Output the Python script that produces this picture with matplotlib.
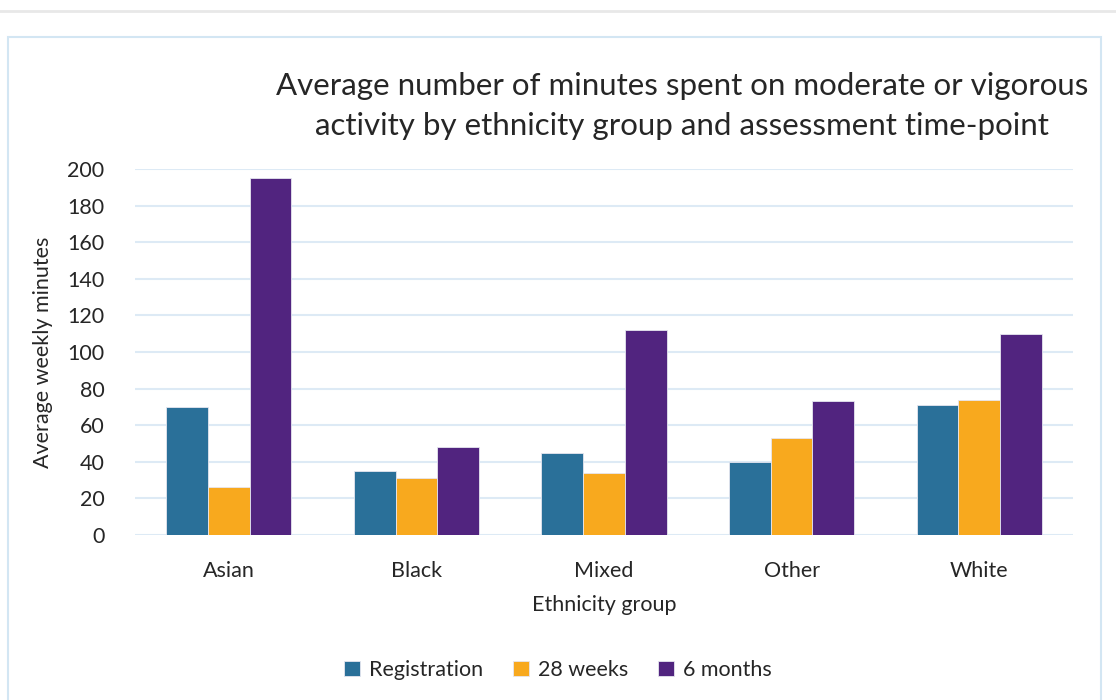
import matplotlib.pyplot as plt
from matplotlib.patches import Rectangle
from matplotlib.lines import Line2D
import numpy as np

# Data
groups = ['Asian', 'Black', 'Mixed', 'Other', 'White']
registration = [70, 35, 45, 40, 71]
weeks_28 = [26, 31, 34, 53, 74]
months_6 = [195, 48, 112, 73, 110]
series_names = ['Registration', '28 weeks', '6 months']
colors = ['#2A7099', '#F8A91E', '#51247F']

plt.rcParams['font.family'] = ['Lato', 'DejaVu Sans']
text_col = '#262626'

W, H = 1116, 700
fig = plt.figure(figsize=(W / 100, H / 100), dpi=100)

# page decorations: grey rule at top and light-blue chart frame
fig.add_artist(Line2D([0, 1], [1 - 11 / H, 1 - 11 / H], color='#E8E8E8', lw=2,
                      transform=fig.transFigure))
fig.add_artist(Rectangle((8 / W, -0.02), (1101 - 8) / W, 1.02 - 37 / H,
                         transform=fig.transFigure, fill=False,
                         edgecolor='#D3E6F3', lw=1.5))

ax = fig.add_axes([135 / W, 1 - 535 / H, (1073 - 135) / W, (535 - 169) / H])

x = np.arange(len(groups))
w = 1 / 4.5  # Excel gap width 150%
for i, vals in enumerate([registration, weeks_28, months_6]):
    ax.bar(x + (i - 1) * w, vals, width=w, color=colors[i],
           edgecolor='#E6E6F0', linewidth=0.6, label=series_names[i], zorder=3)

ax.set_xlim(-0.5, len(groups) - 0.5)
ax.set_ylim(0, 200)
ax.set_yticks(range(0, 201, 20))
ax.set_xticks(x)
ax.set_xticklabels(groups)
ax.grid(axis='y', color='#DDEAF5', lw=1.5, zorder=0)
for s in ax.spines.values():
    s.set_visible(False)
ax.tick_params(axis='both', length=0, labelsize=15.5, colors=text_col)
ax.tick_params(axis='y', pad=22)
ax.tick_params(axis='x', pad=19)

ax.set_ylabel('Average weekly minutes', fontsize=15.5, color=text_col, labelpad=10)
ax.set_xlabel('Ethnicity group', fontsize=15.5, color=text_col, labelpad=10)

fig.text(682 / W, 1 - 106 / H,
         'Average number of minutes spent on moderate or vigorous\n'
         'activity by ethnicity group and assessment time-point',
         ha='center', va='center', fontsize=22.5, color=text_col, linespacing=1.5)

ax.legend(loc='center', bbox_to_anchor=(558 / W, 1 - 670 / H),
          bbox_transform=fig.transFigure, ncol=3, frameon=False, fontsize=15.5,
          handlelength=0.75, handleheight=0.75, handletextpad=0.4, columnspacing=1.4,
          labelcolor=text_col)

fig.savefig('out.png', dpi=100)
